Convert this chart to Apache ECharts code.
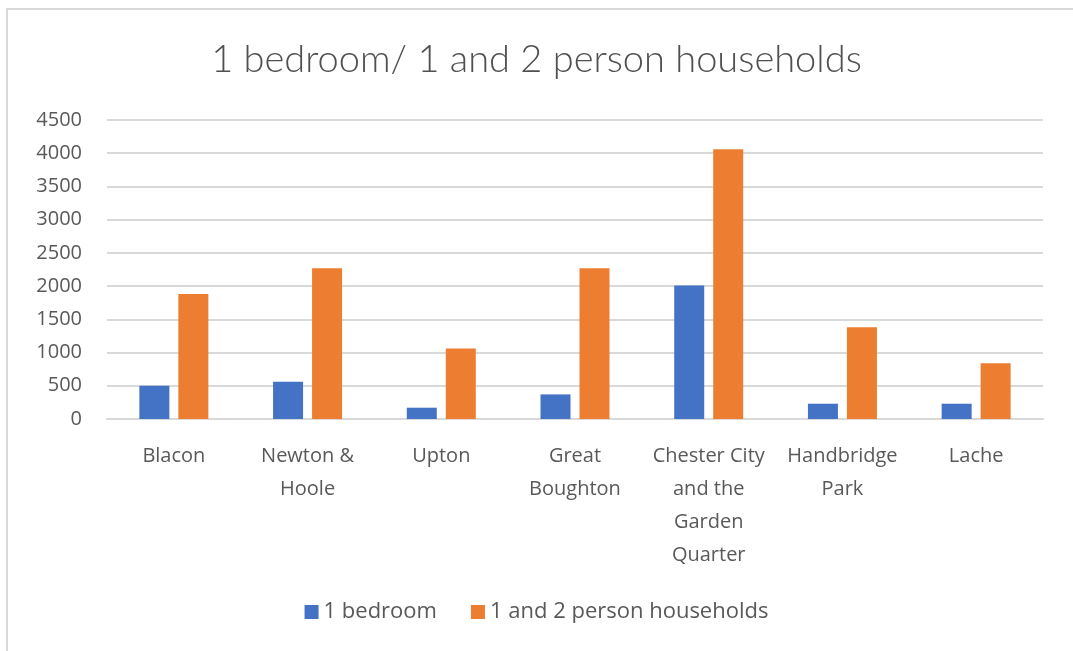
<!DOCTYPE html>
<html>
<head>
<meta charset="utf-8">
<script src="https://cdn.jsdelivr.net/npm/echarts@6/dist/echarts.min.js"></script>
<style>
  html, body { margin: 0; padding: 0; background: #fff; }
  #chart { width: 1073px; height: 651px; }
</style>
</head>
<body>
<div id="chart"></div>
<script>
var categories = ['Blacon', 'Newton &\nHoole', 'Upton', 'Great\nBoughton',
    'Chester City\nand the\nGarden\nQuarter', 'Handbridge\nPark', 'Lache'];
var oneBedroom = [500, 560, 170, 370, 2010, 230, 230];
var smallHouseholds = [1880, 2270, 1060, 2270, 4060, 1380, 840];
var yTicks = { min: 0, max: 4500, interval: 500 };

var chart = echarts.init(document.getElementById('chart'));
var font = 'Open Sans';
var grey = '#595959';

var option = {
    animation: false,
    graphic: [{
        type: 'rect',
        shape: { x: 7, y: 9, width: 1100, height: 700 },
        style: { fill: 'none', stroke: '#d9d9d9', lineWidth: 2 },
        silent: true
    }],
    title: {
        text: '1 bedroom/ 1 and 2 person households',
        left: 'center',
        top: 36,
        textStyle: { fontFamily: 'Lato', fontWeight: 300, fontSize: 38, color: '#505050' }
    },
    legend: {
        bottom: 23,
        left: 'center',
        itemWidth: 14,
        itemHeight: 14,
        itemGap: 34,
        icon: 'rect',
        textStyle: { fontFamily: font, fontSize: 22, color: grey }
    },
    grid: { left: 107, right: 30, top: 120, bottom: 232 },
    xAxis: {
        type: 'category',
        data: categories,
        axisLine: { lineStyle: { color: '#d9d9d9', width: 2 } },
        axisTick: { show: false },
        axisLabel: {
            interval: 0,
            margin: 21,
            fontFamily: font,
            fontSize: 20,
            lineHeight: 33,
            color: grey
        }
    },
    yAxis: {
        type: 'value',
        min: yTicks.min,
        max: yTicks.max,
        interval: yTicks.interval,
        axisLabel: {
            margin: 25, fontFamily: font, fontSize: 20, color: grey,
            formatter: function (v) { return String(v); }
        },
        splitLine: { lineStyle: { color: '#d9d9d9', width: 2 } }
    },
    series: [{
        name: '1 bedroom',
        type: 'bar',
        data: oneBedroom,
        barWidth: 30,
        barGap: '30%',
        itemStyle: { color: '#4472c4' }
    }, {
        name: '1 and 2 person households',
        type: 'bar',
        data: smallHouseholds,
        barWidth: 30,
        itemStyle: { color: '#ed7d31' }
    }]
};
chart.setOption(option);
</script>
</body>
</html>
